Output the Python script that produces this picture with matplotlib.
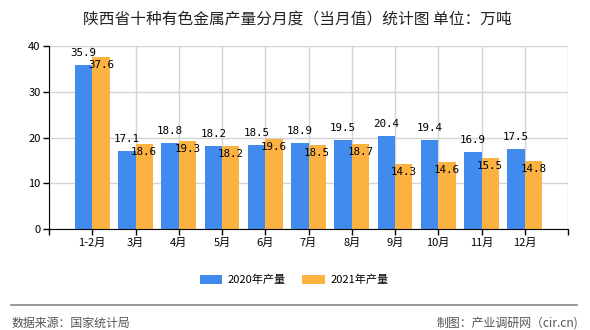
import matplotlib
matplotlib.use("Agg")
import matplotlib.pyplot as plt
import numpy as np

plt.rcParams['font.family'] = ['Noto Sans CJK SC', 'DejaVu Sans']

title = "陕西省十种有色金属产量分月度（当月值）统计图 单位：万吨"
categories = ["1-2月", "3月", "4月", "5月", "6月", "7月", "8月", "9月", "10月", "11月", "12月"]
series_names = ["2020年产量", "2021年产量"]
values_2020 = [35.9, 17.1, 18.8, 18.2, 18.5, 18.9, 19.5, 20.4, 19.4, 16.9, 17.5]
values_2021 = [37.6, 18.6, 19.3, 18.2, 19.6, 18.5, 18.7, 14.3, 14.6, 15.5, 14.8]
y_ticks = [0, 10, 20, 30, 40]
source_text = "数据来源：国家统计局"
credit_text = "制图：产业调研网（cir.cn)"

blue = "#418BEE"
orange = "#FBB241"

fig = plt.figure(figsize=(5.9, 3.3), dpi=100)
ax = fig.add_axes([49/590, 1-229.3/330, (568-49)/590, (229.3-46)/330])

x = np.arange(len(categories))
w = 0.4
b1 = ax.bar(x - w/2, values_2020, width=w, color=blue, label=series_names[0], zorder=3)
b2 = ax.bar(x + w/2, values_2021, width=w, color=orange, label=series_names[1], zorder=3)

for xi, v in zip(x, values_2020):
    ax.annotate(f"{v:.1f}", (xi - w/2, v), xytext=(0, 12), textcoords="offset pixels",
                ha="center", va="center", fontsize=7.8, family="DejaVu Sans Mono", zorder=5)
for xi, v in zip(x, values_2021):
    ax.annotate(f"{v:.1f}", (xi + w/2, v), xytext=(0, -8), textcoords="offset pixels",
                ha="center", va="center", fontsize=7.8, family="DejaVu Sans Mono", zorder=5)

ax.set_xlim(-1, len(categories))
ax.set_ylim(0, 40)
ax.set_yticks(y_ticks)
ax.set_yticklabels([str(t) for t in y_ticks], fontsize=8)
ax.set_xticks(np.arange(-1, len(categories) + 1))
ax.set_xticklabels([""] + categories + [""], fontsize=8)
ax.tick_params(axis="both", length=4, width=1, color="black", pad=2)

ax.grid(True, color="#d4d4d4", linewidth=1, zorder=0)
ax.set_axisbelow(True)
for s in ["top", "right"]:
    ax.spines[s].set_visible(False)
ax.spines["left"].set_color("black")
ax.spines["bottom"].set_color("black")
ax.spines["left"].set_zorder(4)
ax.spines["bottom"].set_zorder(4)

fig.text(297/590, 1-20/330, title, ha="center", va="center", fontsize=11.3, color="#222222")

fig.legend(handles=[b1, b2], labels=series_names, loc="center", bbox_to_anchor=(294/590, 1-280/330),
           ncol=2, frameon=False, fontsize=8, handlelength=2.0, handleheight=0.9,
           handletextpad=0.5, columnspacing=1.5)

fig.add_artist(plt.Line2D([11/590, 577/590], [1-305/330, 1-305/330], color="#888888", linewidth=1.2))
fig.text(12/590, 1-323/330, source_text, ha="left", va="center", fontsize=8.6, color="#555555")
fig.text(578/590, 1-323/330, credit_text, ha="right", va="center", fontsize=8.6, color="#555555")

fig.savefig("out.png", dpi=100)
